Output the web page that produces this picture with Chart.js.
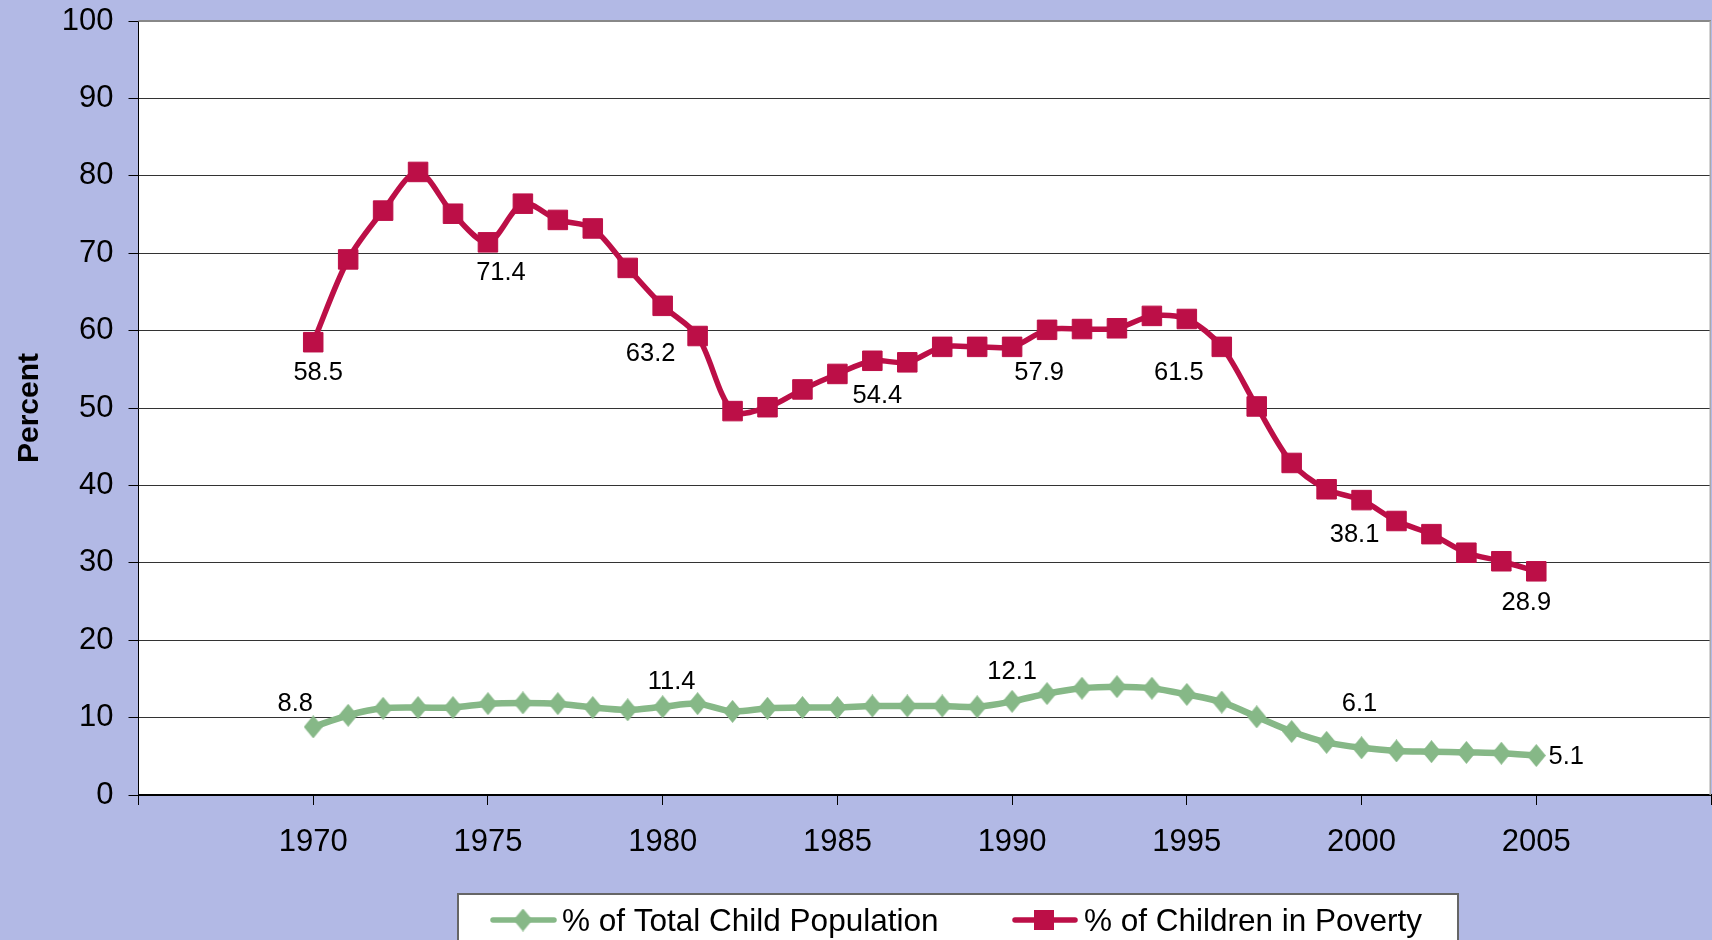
<!DOCTYPE html>
<html lang="en">
<head>
  <meta charset="UTF-8" />
  <title>Percent of Children in Poverty</title>
  <script src="https://cdn.jsdelivr.net/npm/chart.js"></script>
  <style>
    html, body {
      margin: 0;
      padding: 0;
      overflow: hidden;
      background: #B2B9E5;
    }
    #chart {
      display: block;
    }
  </style>
</head>
<body>
  <canvas id="chart" width="1712" height="940"></canvas>
  <script>
    // data
    const years = [1970, 1971, 1972, 1973, 1974, 1975, 1976, 1977, 1978, 1979,
                   1980, 1981, 1982, 1983, 1984, 1985, 1986, 1987, 1988, 1989,
                   1990, 1991, 1992, 1993, 1994, 1995, 1996, 1997, 1998, 1999,
                   2000, 2001, 2002, 2003, 2004, 2005];
    const childPopulation = [8.8, 10.3, 11.2, 11.3, 11.3, 11.8, 11.9, 11.8, 11.3, 11.0,
                             11.4, 11.8, 10.8, 11.2, 11.3, 11.3, 11.5, 11.5, 11.5, 11.4,
                             12.1, 13.1, 13.8, 14.0, 13.8, 13.0, 12.0, 10.1, 8.2, 6.8,
                             6.1, 5.7, 5.6, 5.5, 5.4, 5.1];
    const childrenInPoverty = [58.5, 69.2, 75.5, 80.5, 75.1, 71.4, 76.4, 74.3, 73.2, 68.1,
                               63.2, 59.3, 49.6, 50.1, 52.4, 54.4, 56.1, 55.9, 57.9, 57.9,
                               57.9, 60.1, 60.2, 60.3, 61.9, 61.5, 57.9, 50.2, 42.9, 39.5,
                               38.1, 35.4, 33.7, 31.3, 30.2, 28.9];
    const seriesNames = ['% of Total Child Population', '% of Children in Poverty'];
    const yTickValues = [0, 10, 20, 30, 40, 50, 60, 70, 80, 90, 100];
    const xTickMarks = [1965, 1970, 1975, 1980, 1985, 1990, 1995, 2000, 2005, 2010];
    const xTickLabels = [1970, 1975, 1980, 1985, 1990, 1995, 2000, 2005];
    const populationLabelYears = [1970, 1980, 1990, 2000, 2005];
    const povertyLabelYears = [1970, 1975, 1980, 1985, 1990, 1995, 2000, 2005];

    // styling
    const GREEN = '#86B887';
    const RED = '#BC0F47';
    const FONT = '"Liberation Sans", Arial, sans-serif';
    const PLOT_RIGHT = 1711;
    // where each value label sits relative to its point, in px
    const populationLabelOffsets = [[-18, -23], [9, -25], [0, -29], [-2, -44], [30, 1]];
    const povertyLabelOffsets = [[5, 31], [13, 31], [-12, 48], [40, 22], [27, 26], [-8, 54], [-7, 35], [-10, 32]];

    // the original's diamonds are a bit taller than wide
    function makeDiamond(w, h, color) {
      const c = document.createElement('canvas');
      c.width = w;
      c.height = h;
      const g = c.getContext('2d');
      g.fillStyle = color;
      g.beginPath();
      g.moveTo(w / 2, 0);
      g.lineTo(w, h / 2);
      g.lineTo(w / 2, h);
      g.lineTo(0, h / 2);
      g.closePath();
      g.fill();
      return c;
    }
    const diamond = makeDiamond(19, 23, GREEN);

    // Chart.js keeps some padding on the right for the x labels; the original plot runs to the edge
    const stretchRight = {
      id: 'stretchRight',
      afterLayout(chart) {
        const xs = chart.scales.x;
        chart.chartArea.right = PLOT_RIGHT;
        chart.chartArea.width = PLOT_RIGHT - chart.chartArea.left;
        xs.right = PLOT_RIGHT;
        xs.width = xs.right - xs.left;
        xs.configure();
      }
    };

    const plotBg = {
      id: 'plotBg',
      beforeDraw(chart) {
        const { ctx, chartArea: a } = chart;
        ctx.save();
        ctx.fillStyle = '#fff';
        ctx.fillRect(a.left, a.top, a.right - a.left, a.bottom - a.top);
        ctx.restore();
      },
      beforeDatasetsDraw(chart) {
        const { ctx, chartArea: a } = chart;
        ctx.save();
        ctx.strokeStyle = '#888';
        ctx.lineWidth = 2;
        ctx.beginPath();
        ctx.moveTo(a.left, a.top);
        ctx.lineTo(a.right, a.top);
        ctx.stroke();
        ctx.strokeStyle = '#aaa';
        ctx.lineWidth = 1.5;
        ctx.beginPath();
        ctx.moveTo(a.right - 0.75, a.top);
        ctx.lineTo(a.right - 0.75, a.bottom);
        ctx.stroke();
        ctx.restore();
      }
    };

    const pointLabels = {
      id: 'pointLabels',
      afterDatasetsDraw(chart) {
        const ctx = chart.ctx;
        const sets = [
          { di: 0, yrs: populationLabelYears, off: populationLabelOffsets, vals: childPopulation },
          { di: 1, yrs: povertyLabelYears, off: povertyLabelOffsets, vals: childrenInPoverty }
        ];
        ctx.save();
        ctx.font = '25.5px ' + FONT;
        ctx.fillStyle = '#000';
        ctx.textAlign = 'center';
        ctx.textBaseline = 'middle';
        sets.forEach(s => {
          const meta = chart.getDatasetMeta(s.di);
          s.yrs.forEach((yr, k) => {
            const i = years.indexOf(yr);
            const pt = meta.data[i];
            ctx.fillText(s.vals[i].toFixed(1), pt.x + s.off[k][0], pt.y + s.off[k][1]);
          });
        });
        ctx.restore();
      }
    };

    const boxLegend = {
      id: 'boxLegend',
      afterDraw(chart) {
        const ctx = chart.ctx;
        ctx.save();
        ctx.fillStyle = '#fff';
        ctx.fillRect(458, 894, 1000, 60);
        ctx.strokeStyle = '#666';
        ctx.lineWidth = 2;
        ctx.strokeRect(458, 894, 1000, 60);

        const y = 920;
        // green entry
        ctx.strokeStyle = GREEN;
        ctx.lineWidth = 5.5;
        ctx.lineCap = 'round';
        ctx.beginPath();
        ctx.moveTo(493, y);
        ctx.lineTo(554, y);
        ctx.stroke();
        ctx.drawImage(diamond, 523 - 9.5, y - 11.5);
        // red entry
        ctx.strokeStyle = RED;
        ctx.beginPath();
        ctx.moveTo(1015, y);
        ctx.lineTo(1075, y);
        ctx.stroke();
        ctx.fillStyle = RED;
        ctx.fillRect(1034, y - 10, 20, 20);

        ctx.fillStyle = '#000';
        ctx.font = '31.5px ' + FONT;
        ctx.textAlign = 'left';
        ctx.textBaseline = 'middle';
        ctx.fillText(seriesNames[0], 562, y + 2);
        ctx.fillText(seriesNames[1], 1084, y + 2);
        ctx.restore();
      }
    };

    const ctx = document.getElementById('chart').getContext('2d');
    new Chart(ctx, {
      type: 'line',
      data: {
        datasets: [
          {
            label: seriesNames[0],
            data: years.map((yr, i) => ({ x: yr, y: childPopulation[i] })),
            borderColor: GREEN,
            backgroundColor: GREEN,
            borderWidth: 6.5,
            pointStyle: diamond,
            pointRadius: 11,
            tension: 0.3
          },
          {
            label: seriesNames[1],
            data: years.map((yr, i) => ({ x: yr, y: childrenInPoverty[i] })),
            borderColor: RED,
            backgroundColor: RED,
            borderWidth: 5.5,
            pointStyle: 'rect',
            pointRadius: 13.8,
            pointBorderWidth: 1,
            pointBorderColor: RED,
            pointBackgroundColor: RED,
            tension: 0.3
          }
        ]
      },
      options: {
        responsive: false,
        devicePixelRatio: 1,
        animation: false,
        layout: { padding: { top: 21, right: 1, left: 0, bottom: 0 } },
        plugins: {
          legend: { display: false },
          tooltip: { enabled: false }
        },
        scales: {
          x: {
            type: 'linear',
            min: 1965,
            max: 2010,
            afterBuildTicks: s => { s.ticks = xTickMarks.map(v => ({ value: v })); },
            afterFit: s => { s.height = 145; },
            ticks: {
              callback: v => xTickLabels.includes(v) ? String(v) : '',
              font: { family: FONT, size: 31 },
              color: '#000',
              padding: 19,
              maxRotation: 0,
              autoSkip: false
            },
            grid: { drawOnChartArea: false, drawTicks: true, tickLength: 10, tickColor: '#000', tickWidth: 1 },
            border: { color: '#000', width: 2 }
          },
          y: {
            min: 0,
            max: 100,
            afterBuildTicks: s => { s.ticks = yTickValues.map(v => ({ value: v })); },
            afterFit: s => {
              s.width = 138.5;
              s.paddingTop = 0;
              s.paddingBottom = 0;
            },
            ticks: {
              font: { family: FONT, size: 31 },
              color: '#000',
              padding: 15
            },
            grid: { color: '#333', lineWidth: 1, tickLength: 10, tickColor: '#000' },
            border: { color: '#000', width: 1 },
            title: {
              display: true,
              text: 'Percent',
              font: { family: FONT, size: 30, weight: 'bold' },
              color: '#000',
              padding: { top: 12, bottom: 0 }
            }
          }
        }
      },
      plugins: [stretchRight, plotBg, pointLabels, boxLegend]
    });
  </script>
</body>
</html>
